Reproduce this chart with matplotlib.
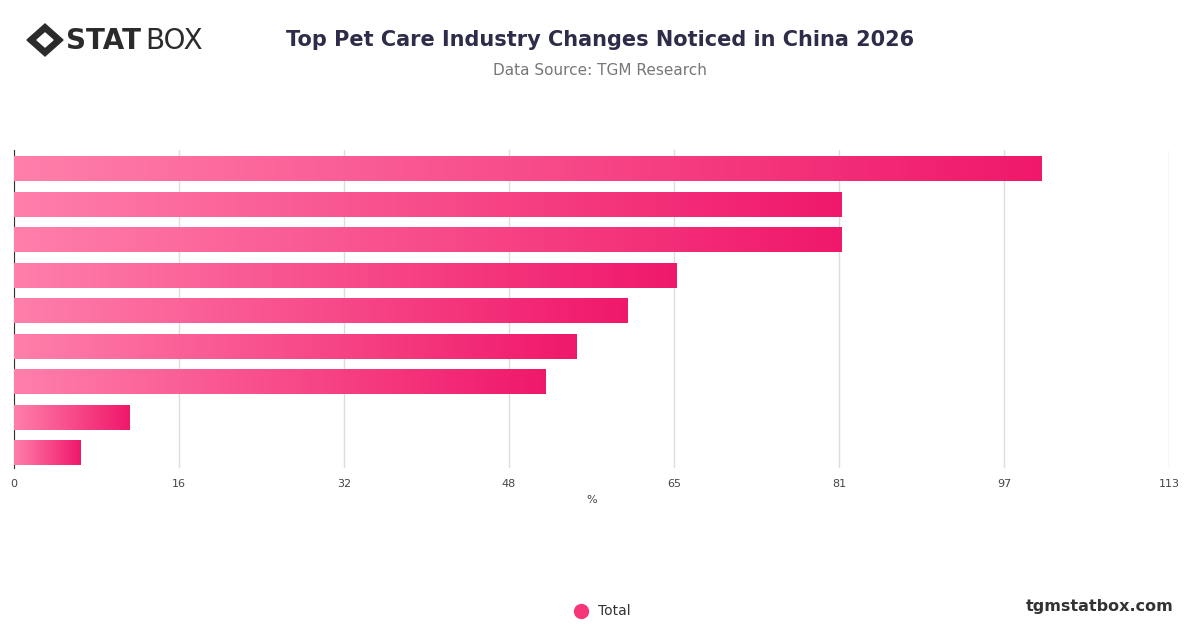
import matplotlib
matplotlib.use("Agg")
import matplotlib.pyplot as plt
import numpy as np
from matplotlib.colors import LinearSegmentedColormap
from matplotlib.patches import Polygon

values = [100.5, 81, 81, 64.8, 60, 55, 52, 11.3, 6.5]
tick_vals = [0, 16.14, 32.29, 48.43, 64.57, 80.71, 96.86, 113]
tick_labels = ["0", "16", "32", "48", "65", "81", "97", "113"]

fig = plt.figure(figsize=(12, 6.28), dpi=100)
ax = fig.add_axes([14/1200, 1-468/628, 1155/1200, 318/628])
cmap = LinearSegmentedColormap.from_list("g", ["#ff7fab", "#f0186a"])
grad = np.linspace(0, 1, 256).reshape(1, -1)
n = len(values)
for i, v in enumerate(values):
    y = i
    ax.imshow(grad, cmap=cmap, extent=[0, v, y + 0.34, y - 0.34], aspect="auto", zorder=3)
ax.set_xlim(0, 113)
ax.set_ylim(n - 1 + 0.42, -0.535)
ax.set_xticks(tick_vals)
ax.set_xticklabels(tick_labels, fontsize=8, color="#444444")
ax.set_yticks([])
ax.tick_params(axis="x", length=0, pad=8)
ax.grid(axis="x", color="#dddddd", lw=1, zorder=0)
for s in ["top", "right", "bottom"]:
    ax.spines[s].set_visible(False)
ax.spines["left"].set_color("#333333")
ax.set_xlabel("%", fontsize=8, color="#444444", labelpad=4)

fig.text(0.5, 0.937, "Top Pet Care Industry Changes Noticed in China 2026", ha="center", va="center",
         fontsize=15, fontweight="bold", color="#2d2d4a")
fig.text(0.5, 0.887, "Data Source: TGM Research", ha="center", va="center", fontsize=11, color="#777777")
fig.text(0.978, 0.034, "tgmstatbox.com", ha="right", va="center", fontsize=11.5, fontweight="bold", color="#333333")
lax = fig.add_axes([0, 0, 1, 1], facecolor="none")
lax.set_xlim(0, 1200); lax.set_ylim(628, 0); lax.axis("off")
lax.plot([581], [611], "o", ms=10, color="#f7357a")
lax.text(598, 611, "Total", ha="left", va="center", fontsize=10, color="#333333")
# logo
lax.add_patch(Polygon([[27, 40], [45, 24], [63, 40], [45, 56]], closed=True, color="#2b2b2b"))
lax.add_patch(Polygon([[37, 40], [45, 33], [53, 40], [45, 47]], closed=True, color="white"))
lax.text(66, 41, "STAT", ha="left", va="center", fontsize=20, fontweight="bold", color="#2b2b2b")
lax.text(145, 41, "BOX", ha="left", va="center", fontsize=20, color="#2b2b2b")
fig.savefig("out.png", dpi=100, facecolor="white")
